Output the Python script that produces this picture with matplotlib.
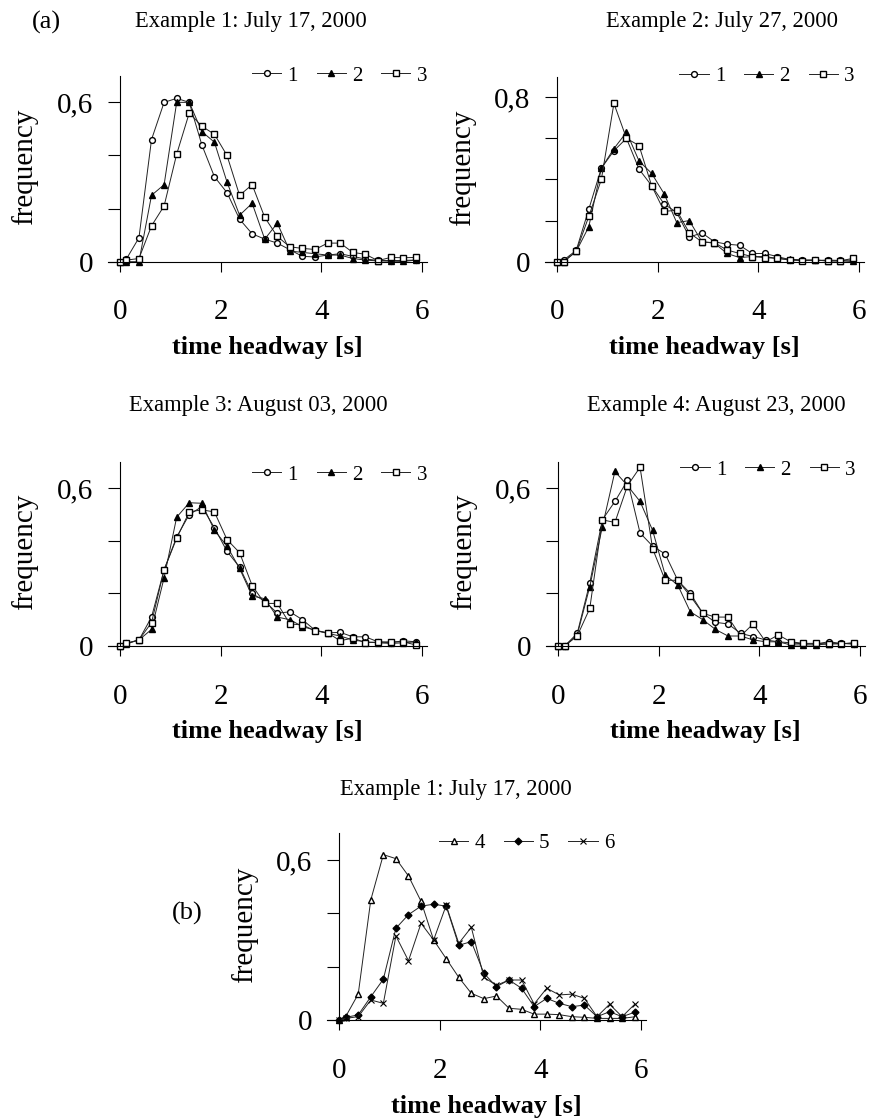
import matplotlib.pyplot as plt

plt.rcParams['font.family'] = ['Liberation Serif', 'DejaVu Serif']

# headway bins [s]
headway = [0, 0.125, 0.375, 0.625, 0.875, 1.125, 1.375, 1.625, 1.875, 2.125,
           2.375, 2.625, 2.875, 3.125, 3.375, 3.625, 3.875, 4.125, 4.375,
           4.625, 4.875, 5.125, 5.375, 5.625, 5.875]

# Example 1: July 17, 2000 - lanes 1..3
ex1_l1 = [0, 0.01, 0.09, 0.46, 0.60, 0.615, 0.60, 0.44, 0.32, 0.26, 0.16, 0.105,
          0.085, 0.07, 0.045, 0.02, 0.018, 0.025, 0.03, 0.02, 0.01, 0.005, 0.004,
          0.005, 0.006]
ex1_l2 = [0, 0.0, 0.0, 0.25, 0.29, 0.60, 0.60, 0.49, 0.45, 0.30, 0.175, 0.22,
          0.085, 0.145, 0.04, 0.035, 0.03, 0.025, 0.025, 0.012, 0.006, 0.003,
          0.002, 0.001, 0.006]
ex1_l3 = [0, 0.006, 0.012, 0.135, 0.21, 0.405, 0.56, 0.51, 0.48, 0.40, 0.25, 0.29,
          0.167, 0.095, 0.056, 0.05, 0.046, 0.07, 0.07, 0.035, 0.028, 0.004,
          0.016, 0.015, 0.016]

# Example 2: July 27, 2000
ex2_l1 = [0, 0.008, 0.055, 0.255, 0.455, 0.54, 0.60, 0.45, 0.37, 0.28, 0.24, 0.12,
          0.14, 0.097, 0.085, 0.08, 0.04, 0.04, 0.025, 0.01, 0.008, 0.006, 0.008,
          0.006, 0.008]
ex2_l2 = [0, 0, 0.05, 0.17, 0.455, 0.55, 0.63, 0.49, 0.43, 0.33, 0.19, 0.20,
          0.097, 0.09, 0.04, 0.02, 0.025, 0.025, 0.016, 0.012, 0.008, 0.008,
          0.004, 0.004, 0.001]
ex2_l3 = [0, 0, 0.05, 0.22, 0.40, 0.77, 0.60, 0.565, 0.37, 0.245, 0.25, 0.14,
          0.097, 0.092, 0.057, 0.04, 0.025, 0.02, 0.016, 0.008, 0.005, 0.008,
          0.004, 0.004, 0.016]

# Example 3: August 03, 2000
ex3_l1 = [0, 0.01, 0.023, 0.11, 0.29, 0.415, 0.50, 0.53, 0.45, 0.36, 0.30, 0.20,
          0.17, 0.125, 0.13, 0.10, 0.06, 0.05, 0.052, 0.035, 0.035, 0.016, 0.012,
          0.02, 0.016]
ex3_l2 = [0, 0.008, 0.023, 0.063, 0.26, 0.49, 0.545, 0.543, 0.44, 0.38, 0.295,
          0.19, 0.18, 0.11, 0.10, 0.074, 0.06, 0.048, 0.038, 0.023, 0.016, 0.012,
          0.01, 0.012, 0.016]
ex3_l3 = [0, 0.01, 0.023, 0.089, 0.29, 0.41, 0.51, 0.518, 0.51, 0.405, 0.355,
          0.23, 0.162, 0.162, 0.084, 0.08, 0.058, 0.05, 0.02, 0.03, 0.013, 0.015,
          0.016, 0.016, 0.004]

# Example 4: August 23, 2000
ex4_l1 = [0, 0, 0.048, 0.24, 0.48, 0.55, 0.63, 0.43, 0.38, 0.35, 0.25, 0.20,
          0.124, 0.09, 0.084, 0.048, 0.036, 0.023, 0.016, 0.012, 0.008, 0.008,
          0.016, 0.01, 0.008]
ex4_l2 = [0, 0, 0.042, 0.226, 0.454, 0.664, 0.61, 0.55, 0.44, 0.27, 0.232, 0.13,
          0.10, 0.063, 0.038, 0.038, 0.023, 0.016, 0.016, 0.004, 0.004, 0.004,
          0.008, 0.01, 0.008]
ex4_l3 = [0, 0, 0.038, 0.143, 0.48, 0.47, 0.61, 0.68, 0.37, 0.25, 0.25, 0.19,
          0.124, 0.11, 0.11, 0.038, 0.084, 0.016, 0.042, 0.016, 0.01, 0.01, 0.008,
          0.008, 0.013]

# (b) Example 1, lanes 4..6
ex1_l4 = [0, 0.0125, 0.097, 0.45, 0.62, 0.605, 0.54, 0.445, 0.30, 0.23, 0.16,
          0.10, 0.08, 0.09, 0.044, 0.04, 0.022, 0.022, 0.02, 0.0125, 0.01, 0.006,
          0.006, 0.006, 0.012]
ex1_l5 = [0, 0.01, 0.019, 0.087, 0.153, 0.344, 0.395, 0.427, 0.434, 0.427, 0.28,
          0.294, 0.175, 0.125, 0.15, 0.119, 0.05, 0.081, 0.0625, 0.05, 0.056,
          0.0125, 0.031, 0.0125, 0.029]
ex1_l6 = [0, 0.006, 0.0125, 0.075, 0.0625, 0.315, 0.222, 0.3625, 0.30, 0.43,
          0.2875, 0.3475, 0.16, 0.13, 0.15, 0.15, 0.06, 0.119, 0.094, 0.097, 0.081,
          0.0125, 0.059, 0.0125, 0.059]

W, H = 870, 1120

styles = {
    '1': dict(marker='o', mfc='white', mec='black', ms=4.2),
    '2': dict(marker='^', mfc='black', mec='black', ms=4.5),
    '3': dict(marker='s', mfc='white', mec='black', ms=4.2),
    '4': dict(marker='^', mfc='white', mec='black', ms=4.5),
    '5': dict(marker='D', mfc='black', mec='black', ms=3.5),
    '6': dict(marker='x', mfc='black', mec='black', ms=5, mew=0.8),
}


def make_panel(left, right, zero_y, top_y, ymax, ytop_label, series, title, tx, ty,
               leg_anchor):
    ax = fig.add_axes([left / W, 1 - zero_y / H, (right - left) / W, (zero_y - top_y) / H])
    for name, vals in series:
        ax.plot(headway, vals, color='#222222', lw=0.7, label=name, clip_on=False,
                **styles[name])
    ax.set_xlim(-0.24, 6.1)
    ax.set_ylim(0, ymax)
    ax.spines['top'].set_visible(False)
    ax.spines['right'].set_visible(False)
    ax.spines['left'].set_position(('data', 0))
    for s in ('left', 'bottom'):
        ax.spines[s].set_linewidth(0.8)
    ax.set_xticks([0, 2, 4, 6])
    ax.set_yticks([0, ytop_label])
    ax.set_yticklabels(['0', '{:.1f}'.format(ytop_label).replace('.', ',')])
    minors = [v for v in (0.2, 0.4, 0.6) if v < ytop_label]
    ax.set_yticks(minors, minor=True)
    ax.tick_params(axis='x', direction='out', length=7, width=0.8, pad=20, labelsize=21)
    ax.tick_params(axis='y', which='both', direction='out', length=8.5, width=0.8,
                   pad=11, labelsize=21)
    ax.set_xlabel('time headway [s]', fontsize=19, fontweight='bold')
    ax.xaxis.set_label_coords(0.5, -0.40)
    ax.set_ylabel('frequency', fontsize=21, va='center')
    ax.yaxis.set_label_coords(-0.26, 0.51)
    ax.legend(loc='center right', bbox_to_anchor=leg_anchor, ncol=3, frameon=False,
              handlelength=1.4, handletextpad=0.3, columnspacing=0.9, fontsize=15,
              borderaxespad=0, borderpad=0)
    fig.text(tx / W, 1 - ty / H, title, ha='center', va='center', fontsize=16.3)
    return ax


fig = plt.figure(figsize=(W / 100, H / 100), dpi=100)

make_panel(108, 427, 261.7, 75.8, 0.7, 0.6,
           [('1', ex1_l1), ('2', ex1_l2), ('3', ex1_l3)],
           'Example 1: July 17, 2000', 251, 22, (1.0, 1.0))
make_panel(545.3, 864, 261.7, 76.7, 0.9, 0.8,
           [('1', ex2_l1), ('2', ex2_l2), ('3', ex2_l3)],
           'Example 2: July 27, 2000', 722, 22, (0.97, 1.0))
make_panel(108, 427, 646, 462, 0.7, 0.6,
           [('1', ex3_l1), ('2', ex3_l2), ('3', ex3_l3)],
           'Example 3: August 03, 2000', 258, 406, (1.0, 0.93))
make_panel(546.3, 865, 646, 462, 0.7, 0.6,
           [('1', ex4_l1), ('2', ex4_l2), ('3', ex4_l3)],
           'Example 4: August 23, 2000', 716, 406, (0.97, 0.957))
make_panel(327.3, 646, 1020, 833.3, 0.7, 0.6,
           [('4', ex1_l4), ('5', ex1_l5), ('6', ex1_l6)],
           'Example 1: July 17, 2000', 456, 789, (0.9, 0.948))

fig.text(46 / W, 1 - 22 / H, '(a)', ha='center', va='center', fontsize=19)
fig.text(187 / W, 1 - 913 / H, '(b)', ha='center', va='center', fontsize=19)

fig.savefig('out.png', dpi=100, facecolor='white')
